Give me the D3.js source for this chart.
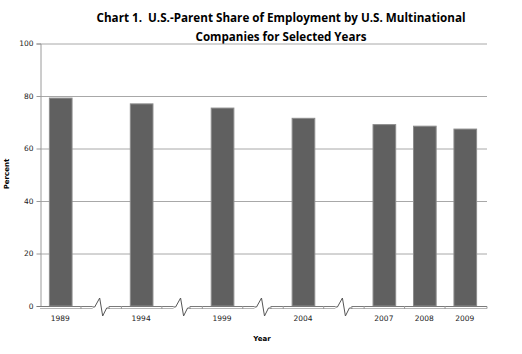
<!DOCTYPE html>
<html><head><meta charset="utf-8">
<script src="https://cdn.jsdelivr.net/npm/d3@7"></script>
<style>body{margin:0;background:#fff;} svg{display:block;}</style>
</head><body>
<svg id="c" width="522" height="354"></svg>
<script>
const years = ["1989","1994","1999","2004","2007","2008","2009"];
const values = [79.2, 77.0, 75.4, 71.5, 69.1, 68.5, 67.4];
const slots = ["1989","b1","1994","b2","1999","b3","2004","b4","2007","2008","2009"];
const breakSlots = ["b1","b2","b3","b4"];
const yTicks = [0,20,40,60,80,100];
const titleLines = ["Chart 1.  U.S.-Parent Share of Employment by U.S. Multinational","Companies for Selected Years"];

const svg = d3.select("#c");
const L = 40, R = 485, T = 43.5, B = 306;
const x = d3.scaleBand().domain(slots).range([L, R]).paddingInner(0.44).paddingOuter(0.22);
const y = d3.scaleLinear().domain([0,100]).range([B, T]);

// title
const tl = svg.append("g").attr("font-family","'Open Sans', 'Liberation Sans', sans-serif").attr("font-weight","bold").attr("font-size",13).attr("fill","#000").attr("text-anchor","middle");
const tw = [369, 171];
titleLines.forEach((t,i)=>{
  tl.append("text").attr("x",281).attr("y",22+i*19).style("white-space","pre").attr("xml:space","preserve")
    .attr("textLength",tw[i]).attr("lengthAdjust","spacingAndGlyphs").text(t);
});

// gridlines
svg.append("g").selectAll("line").data(yTicks.filter(d=>d>0)).join("line")
  .attr("x1",L).attr("x2",487).attr("y1",d=>y(d)+0.5).attr("y2",d=>y(d)+0.5)
  .attr("stroke","#a8a8a8").attr("stroke-width",1);

// y axis
const ya = svg.append("g").attr("transform",`translate(${L+0.5},0)`)
  .call(d3.axisLeft(y).tickValues(yTicks).tickSize(4).tickPadding(3));
ya.select(".domain").attr("stroke","#9a9a9a");
ya.selectAll(".tick line").attr("stroke","#9a9a9a");
ya.selectAll("text").attr("font-family","'DejaVu Sans', sans-serif").attr("font-size",7.5).attr("fill","#222");

// bars
svg.append("g").selectAll("rect").data(years).join("rect")
  .attr("x",(d)=>x(d)+0.5).attr("width",x.bandwidth())
  .attr("y",(d,i)=>y(values[i])).attr("height",(d,i)=>B-y(values[i]))
  .attr("fill","#606060").attr("stroke","#8c8c8c").attr("stroke-width",1);

// x axis base (3D-ish floor)
const base = svg.append("g");
base.append("line").attr("x1",L-3).attr("x2",487).attr("y1",B+0.5).attr("y2",B+0.5).attr("stroke","#7a7a7a");
base.append("line").attr("x1",L).attr("x2",487).attr("y1",B+2.5).attr("y2",B+2.5).attr("stroke","#b5b5b5");
base.append("line").attr("x1",487).attr("x2",487).attr("y1",B+0.5).attr("y2",B+2.5).attr("stroke","#999");
// ticks at slot boundaries
const bounds = slots.slice(1).map(s=>x(s)-x.step()*x.paddingInner()/2);
base.selectAll("line.tk").data(bounds).join("line").attr("class","tk")
  .attr("x1",d=>d+0.5).attr("x2",d=>d+0.5).attr("y1",B).attr("y2",B+3).attr("stroke","#999");

// break marks
const bk = svg.append("g");
breakSlots.forEach(s=>{
  const cx = x(s)+x.bandwidth()/2;
  bk.append("rect").attr("x",cx-8).attr("y",B-1).attr("width",16).attr("height",5).attr("fill","#fff");
  bk.append("path").attr("d",`M${cx-8},${B+1} L${cx-6},${B+1} L${cx-1},${B-8} L${cx+2},${B+10} L${cx+6},${B+2} L${cx+9},${B+2}`)
    .attr("fill","none").attr("stroke","#555").attr("stroke-width",1);
});

// x labels
svg.append("g").selectAll("text").data(years).join("text")
  .attr("x",d=>x(d)+x.bandwidth()/2).attr("y",321).attr("text-anchor","middle")
  .attr("font-family","'DejaVu Sans', sans-serif").attr("font-size",7.5).attr("fill","#222").text(d=>d);

// axis titles
svg.append("text").attr("x",262).attr("y",341).attr("text-anchor","middle")
  .attr("font-family","'DejaVu Sans', sans-serif").attr("font-weight","bold").attr("font-size",7).text("Year");
svg.append("text").attr("transform","translate(9,174) rotate(-90)").attr("text-anchor","middle")
  .attr("font-family","'DejaVu Sans', sans-serif").attr("font-weight","bold").attr("font-size",7).text("Percent");
</script>
</body></html>
